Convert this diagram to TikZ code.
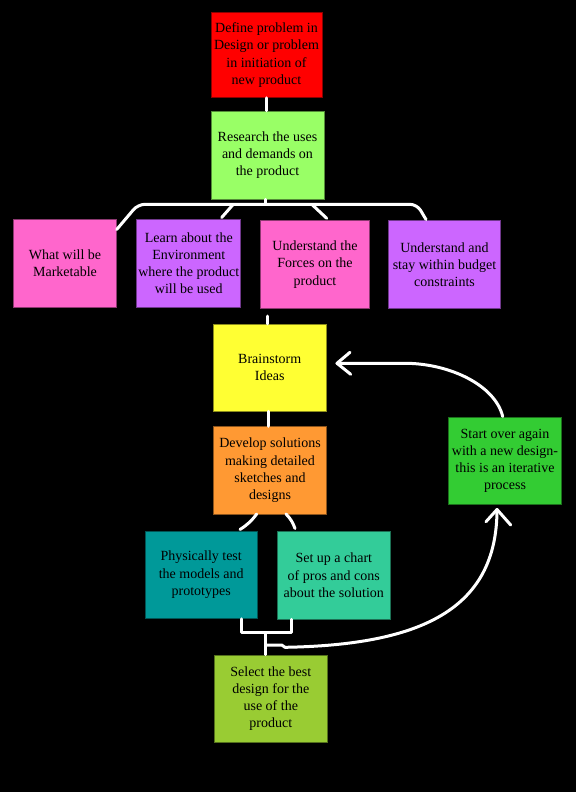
\documentclass[tikz,border=0pt]{standalone}
\usepackage{fontspec}
\setmainfont{Liberation Serif}
\newfontfamily\tmsfont{Liberation Serif}
\definecolor{cred}{HTML}{FF0000}
\definecolor{cres}{HTML}{99FF66}
\definecolor{cpink}{HTML}{FF66CC}
\definecolor{cpurp}{HTML}{CC66FF}
\definecolor{cyell}{HTML}{FFFF33}
\definecolor{corng}{HTML}{FF9933}
\definecolor{cteal}{HTML}{009999}
\definecolor{csea}{HTML}{33CC99}
\definecolor{cgrn}{HTML}{33CC33}
\definecolor{csel}{HTML}{99CC33}
\begin{document}
\begin{tikzpicture}[x=1pt,y=-1pt,
  box/.style={fill=#1, draw=#1!55!black, line width=0.8pt, inner sep=0pt,
    align=center, text=black, font=\tmsfont\fontsize{14}{17.2}\selectfont},
  conn/.style={draw=white, line width=3pt, line cap=round, line join=round}]
\fill[black] (0,0) rectangle (576,792);
\useasboundingbox (0,0) rectangle (576,792);

% nodes
\node[box=cred, minimum width=111pt, minimum height=85pt] (def) at (266.5,55) {Define problem in\\Design or problem\\in initiation of\\new product};
\node[box=cres, minimum width=113pt, minimum height=88pt] (res) at (267.5,155) {Research the uses\\and demands on\\the product};
\node[box=cpink, minimum width=103pt, minimum height=88pt] (mkt) at (65,263.3) {What will be\\Marketable};
\node[box=cpurp, minimum width=104pt, minimum height=88pt] (env) at (188.8,263.3) {Learn about the\\Environment\\where the product\\will be used};
\node[box=cpink, minimum width=108.6pt, minimum height=87.6pt] (frc) at (315,264.5) {Understand the\\Forces on the\\product};
\node[box=cpurp, minimum width=112.4pt, minimum height=87.6pt] (bud) at (444.5,264.5) {Understand and\\stay within budget\\constraints};
\node[box=cyell, minimum width=112.7pt, minimum height=86.7pt] (brn) at (269.7,367.7) {Brainstorm\\Ideas};
\node[box=corng, minimum width=113.4pt, minimum height=87.3pt] (dev) at (270,470.3) {Develop solutions\\making detailed\\sketches and\\designs};
\node[box=cteal, minimum width=112.3pt, minimum height=87.3pt] (phy) at (201.2,574.7) {Physically test\\the models and\\prototypes};
\node[box=csea, minimum width=112.3pt, minimum height=87.3pt] (cht) at (333.8,575.3) {Set up a chart\\of pros and cons\\about the solution};
\node[box=csel, minimum width=113.7pt, minimum height=87.3pt] (sel) at (270.8,698.7) {Select the best\\design for the\\use of the\\product};
\node[box=cgrn, minimum width=113.4pt, minimum height=87pt] (str) at (505,460.8) {Start over again\\with a new design-\\this is an iterative\\process};

% coordinates
\coordinate (hub) at (265,204.3);
\coordinate (tl) at (116.7,229.5);
\coordinate (tr) at (426,219.5);
\coordinate (b2s) at (233.3,204.3);
\coordinate (b2e) at (221.7,217.5);
\coordinate (b3s) at (311.7,204.3);
\coordinate (b3e) at (326.7,218.3);
\coordinate (gap) at (267.5,316);
\coordinate (d1) at (256.7,514);
\coordinate (p1) at (240,529.5);
\coordinate (d2) at (286,514);
\coordinate (c2) at (295,528.5);
\coordinate (ql) at (241.7,632.5);
\coordinate (qr) at (291.7,632.5);
\coordinate (qm) at (265.5,632.5);
\coordinate (fork) at (265.5,645);
\coordinate (up) at (497,509.5);
\coordinate (ret) at (502.7,416.5);
\coordinate (left) at (337,363.3);

% connectors
\draw[conn] (def.south) -- (def.south |- res.north);
\draw[conn] (res.south -| hub) -- (hub);
\draw[conn, rounded corners=7pt] (tl) -- (138,204.3) -- (417,204.3) -- (tr);
\draw[conn] (b2s) -- (b2e);
\draw[conn] (b3s) -- (b3e);
\draw[conn] (gap) -- (gap |- brn.north);
\draw[conn] ([xshift=-1.4pt]brn.south) -- ([xshift=-1.4pt]brn.south |- dev.north);
\draw[conn] (d1) to[bend left=10] (p1);
\draw[conn] (d2) to[bend left=12] (c2);
\draw[conn] (ql |- phy.south) -- (ql) -- (qr) -- (qr |- cht.south);
\draw[conn] (qm) -- (qm |- sel.north);
\draw[conn] (fork) -- (281.7,645) -- (285,647.3) .. controls (420,645) and (497,610) .. (up);
\draw[conn] (486,521.7) -- (up) -- (510.7,525);
\draw[conn] (ret) .. controls (495,385) and (450,364) .. (407,363.3) -- (left);
\draw[conn] (350,352.3) -- (left) -- (350.7,374.3);
\end{tikzpicture}
\end{document}
